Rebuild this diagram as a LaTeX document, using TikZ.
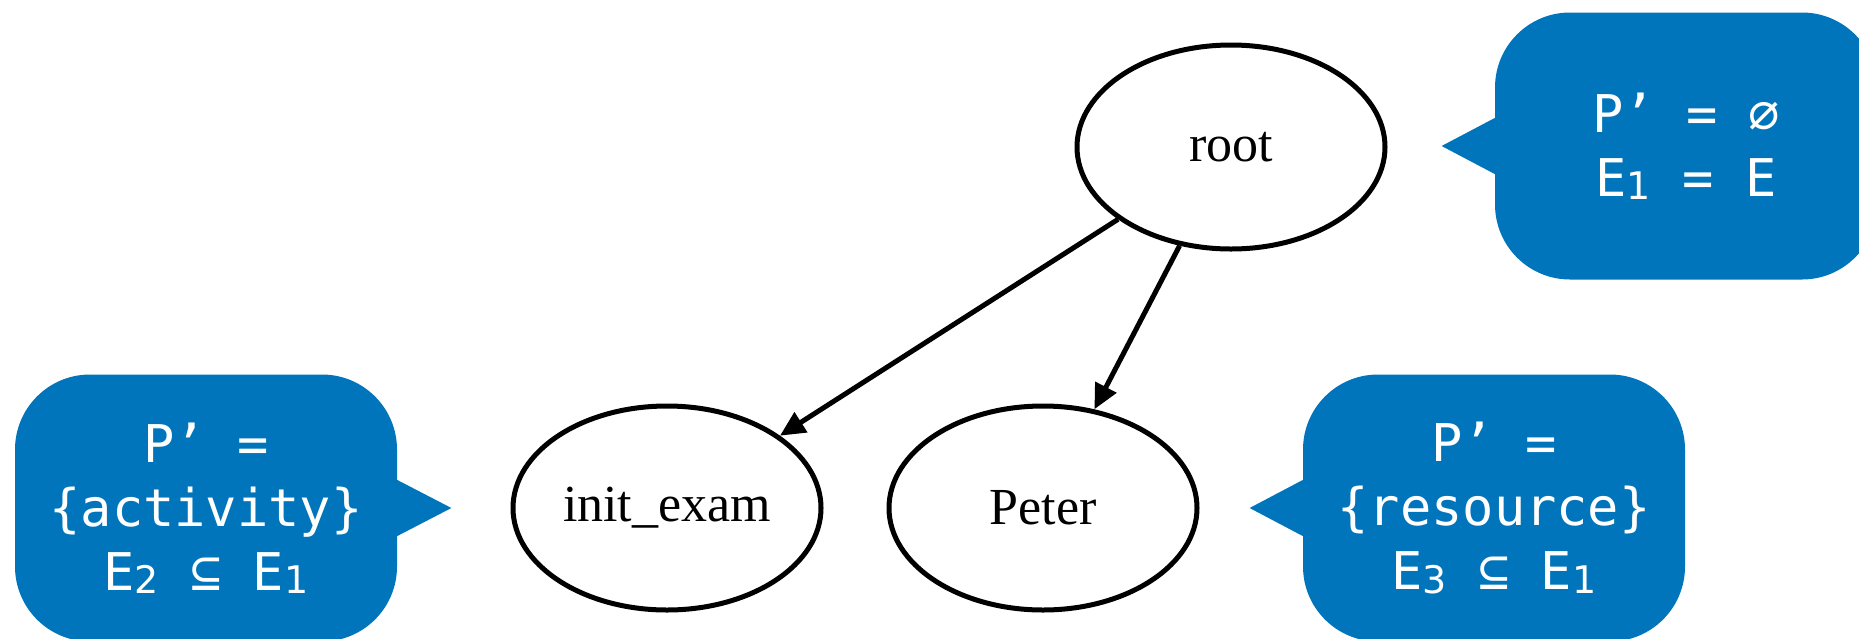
\documentclass[tikz,border=0pt]{standalone}
\usepackage{fontspec}
\setmainfont{Liberation Serif}
\newfontfamily\calloutfont{DejaVu Sans Mono}
\newfontfamily\subfont{DejaVu Sans}
\usetikzlibrary{shapes.geometric,arrows.meta}
\definecolor{calloutblue}{RGB}{0,117,187}
% index digit set smaller and slightly lowered
\newcommand\idx[1]{\raisebox{-1.6pt}{\subfont\fontsize{19}{19}\selectfont #1}}
\begin{document}
\begin{tikzpicture}[x=0.5pt,y=-0.5pt,
  state/.style={ellipse,draw,line width=2.5pt,minimum width=154pt,minimum height=102pt,
    inner sep=0pt,font=\fontsize{26}{30}\selectfont},
  edge/.style={line width=2.5pt,-{Triangle[length=12.5pt,width=11.5pt]}},
  callout/.style={rectangle,rounded corners=37.5pt,fill=calloutblue,text=white,
    minimum width=191pt,minimum height=133.5pt,inner sep=0pt,align=center,
    font=\calloutfont\fontsize{26}{32}\selectfont},
  pointer/.style={fill=calloutblue}]
\clip (0,0) rectangle (1859,638);

% graph nodes
\node[state] (root) at (1231,147) {root};
\node[state] (init) at (667,508) {init\_exam};
\node[state] (peter) at (1043,508) {Peter};

% edges
\draw[edge] (root) -- (init);
\draw[edge] (root) -- (peter);

% callouts
\node[callout] (croot) at (1686,146) {P’ = ∅\\E\idx{1} = E};
\fill[pointer] ([xshift=1pt]croot.west) ++(0,-29) -- ++(-55,29) -- ++(55,29) -- cycle;

\node[callout] (cinit) at (206,508) {P’ =\\\{activity\}\\E\idx{2} ⊆ E\idx{1}};
\fill[pointer] ([xshift=-1pt]cinit.east) ++(0,-29) -- ++(56,29) -- ++(-56,29) -- cycle;

\node[callout] (cpeter) at (1494,508) {P’ =\\\{resource\}\\E\idx{3} ⊆ E\idx{1}};
\fill[pointer] ([xshift=1pt]cpeter.west) ++(0,-29) -- ++(-55,29) -- ++(55,29) -- cycle;
\end{tikzpicture}
\end{document}
